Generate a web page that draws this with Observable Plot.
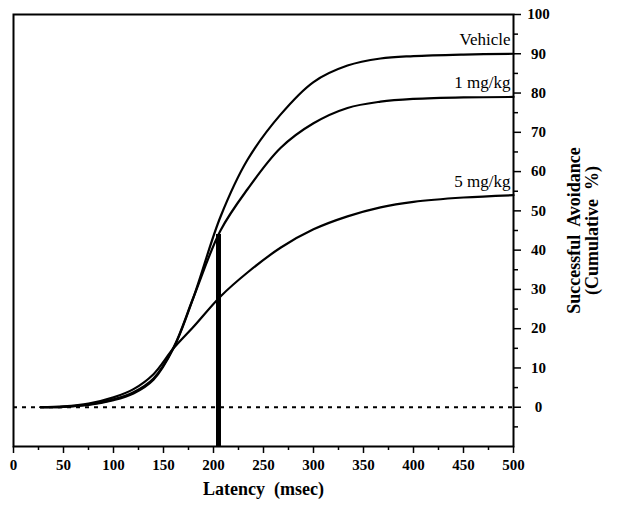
<!DOCTYPE html>
<html><head><meta charset="utf-8">
<script src="https://cdn.jsdelivr.net/npm/d3@7"></script>
<script src="https://cdn.jsdelivr.net/npm/@observablehq/plot@0.6"></script>
<style>body{margin:0;background:#fff}</style>
</head><body><div id="chart"></div>
<script>
const latency = [27, 50, 75, 100, 120, 140, 160, 180, 207, 234, 267, 300, 334, 367, 400, 450, 500];
const vehicle = [0, 0.1, 0.6, 1.8, 3.5, 7, 15, 28, 48.5, 63, 74.5, 82.8, 87, 88.8, 89.4, 89.8, 90];
const mg1     = [0, 0.1, 0.7, 2.0, 3.8, 7.3, 15.2, 28, 45, 55.5, 66, 72.3, 76.2, 77.8, 78.5, 78.9, 79];
const mg5     = [0, 0.2, 0.9, 2.5, 4.6, 8.4, 15, 20.5, 28.2, 34.3, 40.6, 45.3, 48.6, 50.9, 52.3, 53.4, 54];
const seriesNames = ["Vehicle", "1 mg/kg", "5 mg/kg"];
const medianLatency = 205;
const medianTop = 44;
const xMajor = d3.range(0, 501, 50);
const xMinor = d3.range(25, 500, 50);
const yMajor = d3.range(0, 101, 10);
const yMinor = d3.range(-5, 100, 10);

const allSeries = [vehicle, mg1, mg5];
const rows = [];
allSeries.forEach((vals, i) => vals.forEach((v, j) => rows.push({series: seriesNames[i], x: latency[j], y: v})));
const ends = allSeries.map((vals, i) => ({series: seriesNames[i], x: latency[latency.length - 1], y: vals[vals.length - 1]}));

const chart = Plot.plot({
  width: 619, height: 512,
  marginLeft: 13, marginRight: 106, marginTop: 14, marginBottom: 66,
  style: {fontFamily: "Liberation Serif", fontSize: "15px", fontWeight: "bold", color: "black", background: "white"},
  x: {domain: [0, 500]},
  y: {domain: [-10, 100]},
  marks: [
    Plot.ruleY([0], {stroke: "black", strokeWidth: 2, strokeDasharray: "4,5"}),
    Plot.line(rows, {x: "x", y: "y", z: "series", curve: "catmull-rom", stroke: "black", strokeWidth: 2.2}),
    Plot.ruleX([medianLatency], {y1: -10, y2: medianTop, stroke: "black", strokeWidth: 5}),
    Plot.text(ends, {x: "x", y: "y", text: "series", textAnchor: "end", dx: -3, dy: -14, fontWeight: "normal", fontSize: 17, fill: "black"}),
    Plot.frame({stroke: "black", strokeWidth: 2}),
    Plot.axisX({ticks: xMinor, tickSize: 4, tickFormat: () => "", label: null, strokeWidth: 1.5}),
    Plot.axisX({ticks: xMajor, tickSize: 7, tickPadding: 6, label: null, strokeWidth: 1.5, fontSize: 15, fontWeight: "bold", letterSpacing: "2px"}),
    Plot.axisY({anchor: "right", ticks: yMinor, tickSize: 4, tickFormat: () => "", label: null, strokeWidth: 1.5}),
    Plot.axisY({anchor: "right", ticks: yMajor, tickSize: 7, tickPadding: 18, textAnchor: "middle", label: null, strokeWidth: 1.5, fontSize: 15, fontWeight: "bold", letterSpacing: "2px"}),
    Plot.text(["Latency  (msec)"], {frameAnchor: "bottom", dy: 48, fontSize: 18, fontWeight: "bold", letterSpacing: "0.5px", fill: "black"}),
    Plot.text(["Successful  Avoidance\n(Cumulative  %)"], {frameAnchor: "right", dx: 70, rotate: -90, textAnchor: "middle", fontSize: 18, fontWeight: "bold", letterSpacing: "3.2px", lineHeight: 0.95, fill: "black"})
  ]
});
document.getElementById("chart").appendChild(chart);
</script>
</body></html>
